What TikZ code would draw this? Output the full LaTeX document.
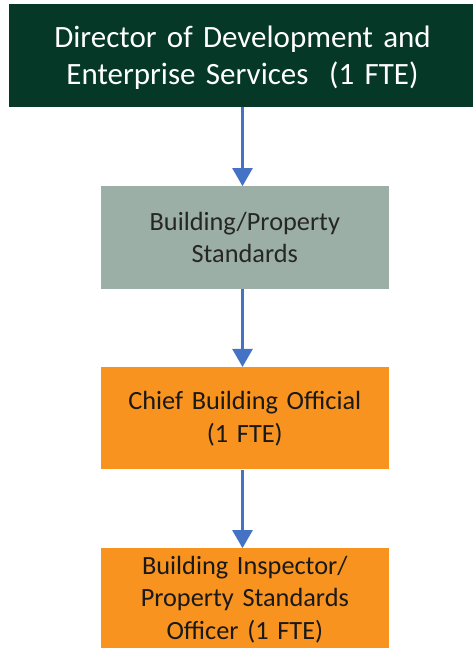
\documentclass[tikz,border=0pt]{standalone}
\usepackage{fontspec}
\setmainfont{Carlito}
\usetikzlibrary{arrows.meta}
\definecolor{dkgreen}{HTML}{053826}
\definecolor{sage}{HTML}{9BAFA6}
\definecolor{orng}{HTML}{F7931E}
\definecolor{arrblue}{HTML}{4472C4}
\begin{document}
\begin{tikzpicture}[x=1pt,y=-1pt,
  box/.style={rectangle, inner sep=0pt, align=center, text width=#1},
  topbox/.style={rectangle, inner sep=0pt, fill=dkgreen, minimum width=467pt, minimum height=103pt},
  toptext/.style={box=450pt, text=white, font=\fontsize{31}{37}\selectfont},
  graybox/.style={box=280pt, fill=sage, text=black!85, minimum width=288pt, minimum height=102.3pt,
     font=\fontsize{26.3}{32.4}\selectfont},
  orangebox/.style={box=280pt, fill=orng, text=black!90, minimum width=288pt, minimum height=102.3pt,
     font=\fontsize{26.3}{32.8}\selectfont},
  arr/.style={draw=arrblue, line width=2.5pt, -{Triangle[width=20pt,length=18pt]}}]
\useasboundingbox (0,0) rectangle (473,648);
\node[topbox] (dir) at (242.5,55.5) {};
\node[toptext] (dirtext) at ([yshift=-2.5pt]dir.center) {Director of Development and\\Enterprise Services\ \ (1 FTE)};
\node[graybox] (bps) at (244.8,237.5) {Building/Property\\Standards};
\node[orangebox] (cbo) at (244.8,418.3) {Chief Building Official\\(1 FTE)};
\node[orangebox] (bi) at (244.8,599.5) {Building Inspector/\\Property Standards\\Officer (1 FTE)};
\draw[arr] (dir.south) -- (dir.south |- bps.north);
\draw[arr] (dir.south |- bps.south) -- (dir.south |- cbo.north);
\draw[arr] (dir.south |- cbo.south) -- (dir.south |- bi.north);
\end{tikzpicture}
\end{document}
